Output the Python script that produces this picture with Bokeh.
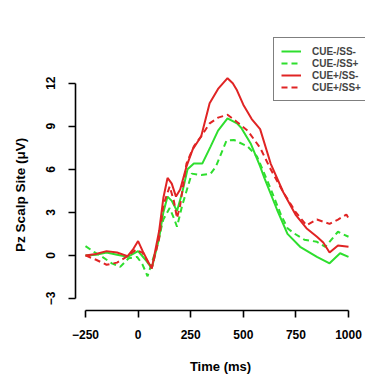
from bokeh.plotting import figure
from bokeh.models import FixedTicker, Legend, LegendItem
from bokeh.embed import file_html
from bokeh.resources import INLINE

# CUE-/SS- (green solid)
t_g_solid = [-250, -200, -150, -100, -50, 0, 35, 65, 100, 120, 140, 160, 185, 210, 235, 265, 305, 345, 380, 425, 470, 490, 535, 580, 600, 660, 710, 770, 850, 910, 960, 1000]
v_g_solid = [0.0, 0.05, 0.2, 0.05, -0.1, 0.3, -0.3, -0.9, 1.2, 3.0, 4.1, 3.8, 3.1, 4.4, 6.0, 6.4, 6.4, 7.6, 8.7, 9.55, 9.2, 8.9, 7.8, 6.2, 5.4, 3.2, 1.5, 0.6, -0.1, -0.55, 0.15, -0.1]

# CUE-/SS+ (green dashed)
t_g_dash = [-250, -210, -170, -125, -85, -45, -5, 20, 45, 85, 120, 150, 170, 185, 210, 255, 300, 345, 370, 420, 455, 520, 565, 620, 680, 710, 740, 790, 850, 890, 950, 1000]
v_g_dash = [0.65, 0.25, -0.1, -0.55, -0.8, -0.2, -0.1, -0.6, -1.45, 0.4, 2.5, 3.3, 2.6, 2.0, 3.5, 5.7, 5.6, 5.7, 6.2, 8.0, 8.05, 7.6, 6.9, 5.0, 2.8, 1.9, 1.55, 1.1, 0.95, 0.6, 1.65, 1.3]

# CUE+/SS- (red solid)
t_r_solid = [-250, -200, -150, -100, -50, -25, 0, 25, 50, 65, 100, 120, 140, 160, 180, 200, 230, 260, 300, 340, 380, 425, 450, 470, 500, 540, 580, 630, 690, 750, 800, 850, 880, 910, 950, 1000]
v_r_solid = [0.0, 0.1, 0.3, 0.2, -0.05, 0.4, 1.0, 0.2, -0.5, -0.9, 1.7, 4.0, 5.4, 5.0, 4.1, 4.6, 6.2, 7.4, 8.3, 10.6, 11.6, 12.35, 12.0, 11.5, 10.5, 9.5, 8.8, 6.4, 4.4, 2.8, 1.9, 1.3, 0.9, 0.2, 0.7, 0.6]

# CUE+/SS+ (red dashed)
t_r_dash = [-250, -200, -150, -100, -50, -10, 20, 65, 100, 120, 150, 170, 185, 200, 230, 265, 300, 340, 380, 425, 470, 520, 580, 630, 690, 750, 800, 850, 910, 950, 990, 1000]
v_r_dash = [0.0, -0.3, -0.65, -0.5, -0.05, 0.4, 0.2, -0.9, 1.2, 3.5, 4.8, 3.8, 2.6, 3.5, 6.4, 7.6, 8.3, 9.2, 9.6, 9.8, 9.3, 8.7, 7.5, 6.0, 4.4, 3.0, 2.1, 2.5, 2.2, 2.5, 2.85, 2.6]

series_labels = ["CUE-/SS-", "CUE-/SS+", "CUE+/SS-", "CUE+/SS+"]
x_ticks = [-250, 0, 250, 500, 750, 1000]
y_ticks = [-3, 0, 3, 6, 9, 12]

GREEN = "#2ede2e"
RED = "#e02424"

p = figure(width=365, height=376, output_backend="svg", toolbar_location=None,
           x_range=(-297.5, 1080.8), y_range=(-3.836, 15.67),
           min_border_left=75, min_border_right=0, min_border_top=30, min_border_bottom=66)
p.outline_line_color = None
p.grid.visible = False
p.background_fill_color = "white"
p.border_fill_color = "white"

lw = 2
r1 = p.line(t_g_solid, v_g_solid, line_color=GREEN, line_width=lw)
r2 = p.line(t_g_dash, v_g_dash, line_color=GREEN, line_width=lw, line_dash="6 4")
r3 = p.line(t_r_solid, v_r_solid, line_color=RED, line_width=lw)
r4 = p.line(t_r_dash, v_r_dash, line_color=RED, line_width=lw, line_dash="6 4")

font = "Liberation Sans"
for ax in (p.xaxis[0], p.yaxis[0]):
    ax.axis_line_width = 1.6
    ax.axis_line_color = "black"
    ax.major_tick_line_width = 1.6
    ax.major_tick_line_color = "black"
    ax.major_tick_out = 7
    ax.major_tick_in = 0
    ax.minor_tick_out = 0
    ax.minor_tick_in = 0
    ax.major_label_text_font = font
    ax.major_label_text_font_style = "bold"
    ax.major_label_text_font_size = "12px"
    ax.major_label_text_color = "black"
    ax.axis_label_text_font = font
    ax.axis_label_text_font_style = "bold"
    ax.axis_label_text_color = "black"

p.xaxis[0].ticker = FixedTicker(ticks=x_ticks)
p.yaxis[0].ticker = FixedTicker(ticks=y_ticks)
p.xaxis[0].bounds = (x_ticks[0], x_ticks[-1])
p.yaxis[0].bounds = (y_ticks[0], y_ticks[-1])
p.xaxis[0].axis_label = "Time (ms)"
p.xaxis[0].axis_label_text_font_size = "13px"
p.xaxis[0].major_label_standoff = 12
p.xaxis[0].axis_label_standoff = 17
p.yaxis[0].major_label_standoff = 13
p.yaxis[0].major_label_orientation = "vertical"
# trailing no-break spaces push the visible label down to the reference's position
p.yaxis[0].axis_label = "Pz Scalp Site (μV)" + "\u00a0" * 13
p.yaxis[0].axis_label_text_font_size = "13.5px"
p.yaxis[0].axis_label_standoff = 16

legend = Legend(items=[LegendItem(label=series_labels[0], renderers=[r1]),
                       LegendItem(label=series_labels[1], renderers=[r2]),
                       LegendItem(label=series_labels[2], renderers=[r3]),
                       LegendItem(label=series_labels[3], renderers=[r4])],
                location=(198, 209))
legend.border_line_color = "black"
legend.border_line_width = 1.6
legend.background_fill_color = "white"
legend.background_fill_alpha = 1
legend.padding = 7
legend.margin = 0
legend.spacing = 0
legend.glyph_width = 20
legend.glyph_height = 12
legend.label_height = 12
legend.label_standoff = 11
legend.label_text_font = font
legend.label_text_font_style = "bold"
legend.label_text_font_size = "10px"
legend.label_text_baseline = "middle"
p.add_layout(legend)

open("out.html", "w").write(file_html(p, INLINE))
